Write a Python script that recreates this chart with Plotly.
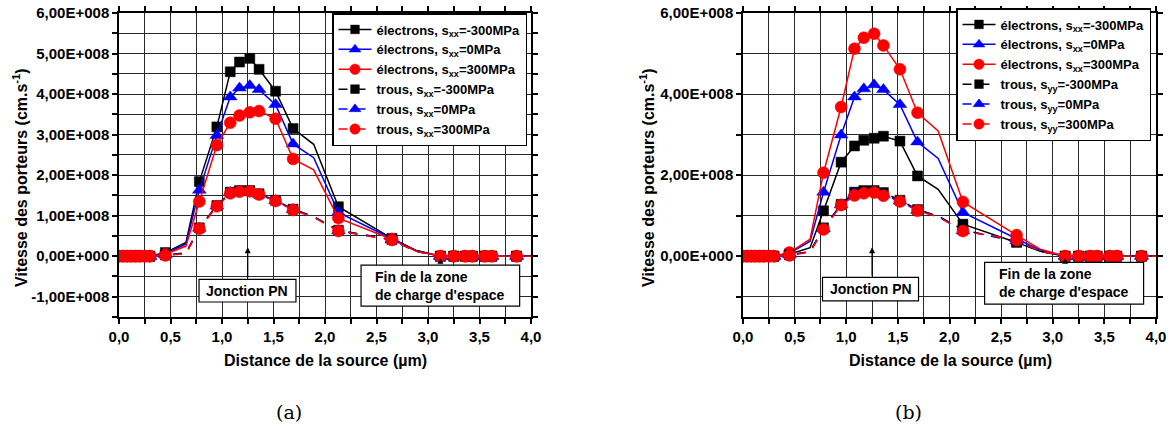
import plotly.graph_objects as go

# ---------------- data (velocities in units of 1e8 cm/s) ----------------
SCALE = 1e8
X = [0, 0.04, 0.08, 0.12, 0.16, 0.2, 0.25, 0.3, 0.45, 0.65, 0.78, 0.95, 1.08, 1.17,
     1.27, 1.36, 1.52, 1.69, 1.89, 2.13, 2.65, 2.88, 3.12, 3.25, 3.36, 3.43, 3.55,
     3.62, 3.86, 4.0]
UNMARKED_X = [0.65, 1.89, 2.88, 4.0]
Z8 = [0, 0, 0, 0, 0, 0, 0, 0]
Z8b = [0, 0, 0, 0, 0, 0, 0, 0]

# panel (a)
a_e_m300 = Z8 + [0.09, 0.34, 1.84, 3.19, 4.55, 4.79, 4.88, 4.61, 4.07, 3.15, 2.76, 1.22, 0.44, 0.15] + Z8b
a_e_0 = Z8 + [0.06, 0.30, 1.63, 2.98, 3.93, 4.15, 4.21, 4.11, 3.74, 2.77, 2.43, 1.08, 0.43, 0.14] + Z8b
a_e_p300 = Z8 + [0.05, 0.25, 1.35, 2.74, 3.29, 3.47, 3.55, 3.58, 3.39, 2.40, 2.13, 0.94, 0.42, 0.13] + Z8b
a_h_m300 = Z8 + [0.03, 0.08, 0.70, 1.25, 1.58, 1.62, 1.62, 1.54, 1.38, 1.16, 0.98, 0.64, 0.41, 0.13] + Z8b
a_h_0 = Z8 + [0.03, 0.07, 0.69, 1.24, 1.57, 1.61, 1.61, 1.53, 1.37, 1.15, 0.97, 0.63, 0.40, 0.12] + Z8b
a_h_p300 = Z8 + [0.02, 0.06, 0.68, 1.23, 1.55, 1.59, 1.60, 1.52, 1.36, 1.14, 0.96, 0.62, 0.40, 0.12] + Z8b

# panel (b)
b_e_m300 = Z8 + [0.05, 0.21, 1.12, 2.32, 2.72, 2.86, 2.91, 2.96, 2.84, 1.98, 1.65, 0.79, 0.34, 0.12] + Z8b
b_e_0 = Z8 + [0.07, 0.37, 1.58, 2.99, 3.93, 4.13, 4.23, 4.11, 3.74, 2.82, 2.41, 1.08, 0.43, 0.15] + Z8b
b_e_p300 = Z8 + [0.09, 0.42, 2.06, 3.68, 5.12, 5.39, 5.49, 5.20, 4.61, 3.54, 3.09, 1.34, 0.52, 0.17] + Z8b
b_h_m300 = Z8 + [0.03, 0.12, 0.70, 1.28, 1.58, 1.62, 1.62, 1.57, 1.38, 1.15, 0.99, 0.65, 0.36, 0.12] + Z8b
b_h_0 = Z8 + [0.03, 0.11, 0.68, 1.27, 1.55, 1.58, 1.59, 1.52, 1.36, 1.13, 0.98, 0.63, 0.38, 0.12] + Z8b
b_h_p300 = Z8 + [0.02, 0.10, 0.66, 1.26, 1.50, 1.55, 1.57, 1.49, 1.35, 1.12, 0.97, 0.62, 0.40, 0.12] + Z8b

NAMES_A = ["électrons, s<sub>xx</sub>=-300MPa", "électrons, s<sub>xx</sub>=0MPa",
           "électrons, s<sub>xx</sub>=300MPa", "trous, s<sub>xx</sub>=-300MPa",
           "trous, s<sub>xx</sub>=0MPa", "trous, s<sub>xx</sub>=300MPa"]
NAMES_B = ["électrons, s<sub>xx</sub>=-300MPa", "électrons, s<sub>xx</sub>=0MPa",
           "électrons, s<sub>xx</sub>=300MPa", "trous, s<sub>yy</sub>=-300MPa",
           "trous, s<sub>yy</sub>=0MPa", "trous, s<sub>yy</sub>=300MPa"]

X_TICKS = [i * 0.25 for i in range(17)]
X_TICKTEXT = ["0,0", "", "0,5", "", "1,0", "", "1,5", "", "2,0", "", "2,5", "", "3,0", "",
              "3,5", "", "4,0"]
YA_TICKS = [-1.5 + 0.5 * i for i in range(16)]
YA_TICKTEXT = ["", "-1,00E+008", "", "0,00E+000", "", "1,00E+008", "", "2,00E+008", "",
               "3,00E+008", "", "4,00E+008", "", "5,00E+008", "", "6,00E+008"]
YB_TICKS = [-1 + i for i in range(8)]
YB_TICKTEXT = ["", "0,00E+000", "", "2,00E+008", "", "4,00E+008", "", "6,00E+008"]

# ---------------- styling ----------------
COLORS = ["#000000", "#0000FF", "#FF0000"]
SYMBOLS = ["square", "triangle-up", "circle"]
MSIZES = [10, 12, 12]
FONT = "Liberation Sans"

fig = go.Figure()


def add_series(xs, ys, name, k, holes, xaxis, yaxis, legend):
    sizes = [0 if x in UNMARKED_X else MSIZES[k] for x in xs]
    fig.add_trace(go.Scatter(
        x=xs, y=[v * SCALE for v in ys], name=name, mode="lines+markers",
        xaxis=xaxis, yaxis=yaxis, legend=legend, opacity=1,
        line=dict(color=COLORS[k], width=1.5, dash="dash" if holes else "solid"),
        marker=dict(symbol=SYMBOLS[k], size=sizes, color=COLORS[k], opacity=1,
                    line=dict(width=0.5, color=COLORS[k])),
    ))


for i, ys in enumerate([a_e_m300, a_e_0, a_e_p300, a_h_m300, a_h_0, a_h_p300]):
    add_series(X, ys, NAMES_A[i], i % 3, i >= 3, "x", "y", "legend")
for i, ys in enumerate([b_e_m300, b_e_0, b_e_p300, b_h_m300, b_h_0, b_h_p300]):
    add_series(X, ys, NAMES_B[i], i % 3, i >= 3, "x2", "y2", "legend2")

W, H = 1171, 429
ax_common = dict(
    showgrid=True, gridcolor="#2a2a2a", gridwidth=1, zeroline=False,
    showline=True, linecolor="black", linewidth=1.5, mirror="ticks",
    ticks="outside", ticklen=5, tickwidth=1.5, tickcolor="black", automargin=False,
    tickfont=dict(family=FONT, size=15, color="black", weight="bold"),
)
top = 1 - 13 / H
bot = 1 - 317 / H
leg_common = dict(xanchor="right", yanchor="top", bgcolor="white", bordercolor="black",
                  borderwidth=1.5, itemwidth=33, tracegroupgap=0,
                  font=dict(family=FONT, size=13, color="black", weight="bold"))
fig.update_layout(
    width=W, height=H, margin=dict(l=0, r=0, t=0, b=0, autoexpand=False),
    paper_bgcolor="white", plot_bgcolor="white", showlegend=True,
    xaxis=dict(domain=[119 / W, 531 / W], range=[0, 4], tickmode="array",
               tickvals=X_TICKS, ticktext=X_TICKTEXT, anchor="y", **ax_common),
    yaxis=dict(domain=[bot, top], range=[-1.5 * SCALE, 6 * SCALE], tickmode="array",
               tickvals=[v * SCALE for v in YA_TICKS], ticktext=YA_TICKTEXT, anchor="x", **ax_common),
    xaxis2=dict(domain=[743 / W, 1156 / W], range=[0, 4], tickmode="array",
                tickvals=X_TICKS, ticktext=X_TICKTEXT, anchor="y2", **ax_common),
    yaxis2=dict(domain=[bot, top], range=[-1.5 * SCALE, 6 * SCALE], tickmode="array",
                tickvals=[v * SCALE for v in YB_TICKS], ticktext=YB_TICKTEXT, anchor="x2", **ax_common),
    legend=dict(x=527 / W, y=1 - 13 / H, **leg_common),
    legend2=dict(x=1151 / W, y=1 - 8 / H, **leg_common),
)

title_font = dict(family=FONT, size=16, color="black", weight="bold")
for xc, x0 in [(325, 20), (950, 647)]:
    fig.add_annotation(text="Distance de la source (µm)", xref="paper", yref="paper",
                       x=xc / W, y=1 - 360 / H, xanchor="center", yanchor="middle",
                       showarrow=False, font=title_font)
    fig.add_annotation(text="Vitesse des porteurs (cm.s<sup>-1</sup>)", xref="paper", yref="paper",
                       x=x0 / W, y=1 - 178 / H, xanchor="center", yanchor="middle",
                       showarrow=False, textangle=-90, font=title_font)

for xc, lab in [(289, "(a)"), (908, "(b)")]:
    fig.add_annotation(text=lab, xref="paper", yref="paper", x=xc / W, y=1 - 412 / H,
                       xanchor="center", yanchor="middle", showarrow=False,
                       font=dict(family="DejaVu Serif", size=19, color="black"))

box_font = dict(family=FONT, size=14, color="black", weight="bold")
# Jonction PN boxes + arrows
for xr, yr, bx0, bx1, by0, by1 in [("x", "y", 0.777, 1.718, -1.13, -0.57),
                                   ("x2", "y2", 0.77, 1.70, -1.10, -0.52)]:
    fig.add_shape(type="rect", xref=xr, yref=yr, x0=bx0, x1=bx1, y0=by0 * SCALE, y1=by1 * SCALE,
                  line=dict(color="black", width=1.2), fillcolor="white", layer="above")
    fig.add_annotation(text="Jonction PN", xref=xr, yref=yr, x=(bx0 + bx1) / 2,
                       y=(by0 + by1) / 2 * SCALE, xanchor="center", yanchor="middle",
                       showarrow=False, font=box_font)
    fig.add_annotation(x=1.25, y=0.22 * SCALE, xref=xr, yref=yr, ax=1.25, ay=by1 * SCALE,
                       axref=xr, ayref=yr, showarrow=True, arrowhead=2, arrowsize=1,
                       arrowwidth=1.2, arrowcolor="black", text="")

# Fin de la zone boxes + arrows
for xr, yr, bx0, bx1, by0, by1, tx in [("x", "y", 2.35, 3.89, -1.23, -0.22, 2.47),
                                       ("x2", "y2", 2.34, 3.88, -1.18, -0.15, 2.46)]:
    fig.add_shape(type="rect", xref=xr, yref=yr, x0=bx0, x1=bx1, y0=by0 * SCALE, y1=by1 * SCALE,
                  line=dict(color="black", width=1.2), fillcolor="white", layer="above")
    fig.add_annotation(text="Fin de la zone<br>de charge d'espace", xref=xr, yref=yr, x=tx,
                       y=(by0 + by1) / 2 * SCALE, xanchor="left", yanchor="middle", align="left",
                       showarrow=False, font=box_font)
    fig.add_annotation(x=3.12, y=-0.04 * SCALE, xref=xr, yref=yr, ax=3.12, ay=by1 * SCALE,
                       axref=xr, ayref=yr, showarrow=True, arrowhead=2, arrowsize=1,
                       arrowwidth=1.2, arrowcolor="black", text="")

fig.write_html("out.html", post_script="document.body.style.margin='0';",
               config={"displayModeBar": False})
